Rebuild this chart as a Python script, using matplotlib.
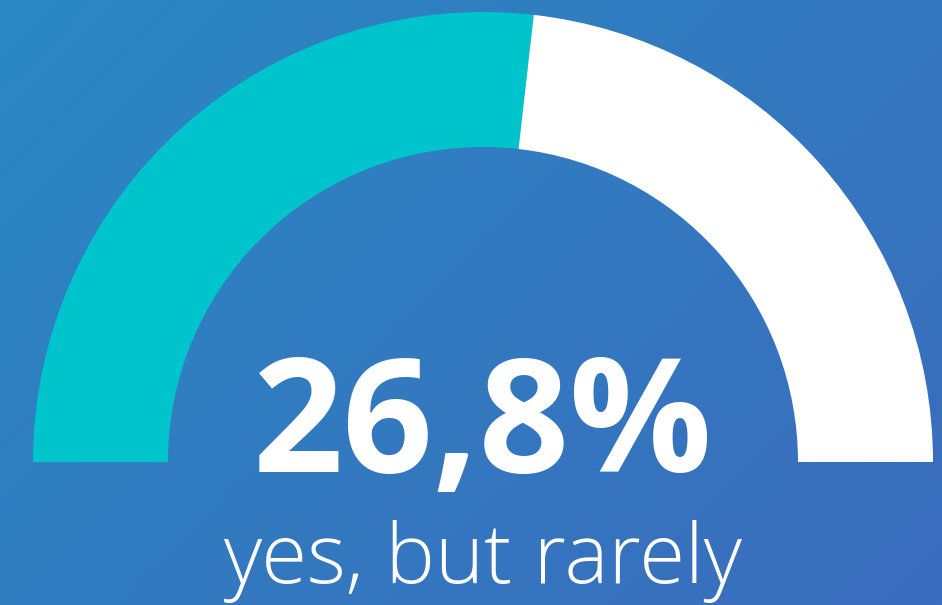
import matplotlib
matplotlib.use("Agg")
import matplotlib.pyplot as plt
import matplotlib.colors as mcolors
import numpy as np

# gauge data: share answering "yes, but rarely", gauge scale tops out at 50 %
value = 26.8
gauge_max = 50.0
label = "yes, but rarely"

W, H = 942, 605
fig = plt.figure(figsize=(W / 100, H / 100), dpi=100)
ax = fig.add_axes([0, 0, 1, 1])

# diagonal background gradient, top-left -> bottom-right
yy, xx = np.mgrid[0:1:200j, 0:1:300j]
t = (xx * W + yy * H) / (W + H)
cmap = mcolors.LinearSegmentedColormap.from_list("bg", ["#2a88c3", "#3b6cbd"])
ax.imshow(t, cmap=cmap, extent=[0, W, 0, H], origin="upper", aspect="auto", zorder=0)

# half-donut: filled part, remainder, and the invisible lower half
cx, cy, r_out, r_in = 483, H - 462, 450, 315
wedges, _ = ax.pie(
    [value, gauge_max - value, gauge_max],
    colors=["#00c4cc", "#ffffff", "none"],
    startangle=180, counterclock=False,
    radius=r_out, center=(cx, cy),
    wedgeprops=dict(width=r_out - r_in, edgecolor="none", linewidth=0),
)
for w in wedges:
    w.set_zorder(2)

ax.text(cx, H - 472, f"{value:.1f}%".replace(".", ","), ha="center", va="baseline",
        fontsize=114, fontweight="bold", color="white", family="Open Sans", zorder=3)
ax.text(cx, H - 583, label, ha="center", va="baseline",
        fontsize=60, fontweight=300, color="white", family="Open Sans", zorder=3)

ax.set_xlim(0, W)
ax.set_ylim(0, H)
ax.set_aspect("equal")
ax.axis("off")

fig.savefig("out.png", dpi=100)
